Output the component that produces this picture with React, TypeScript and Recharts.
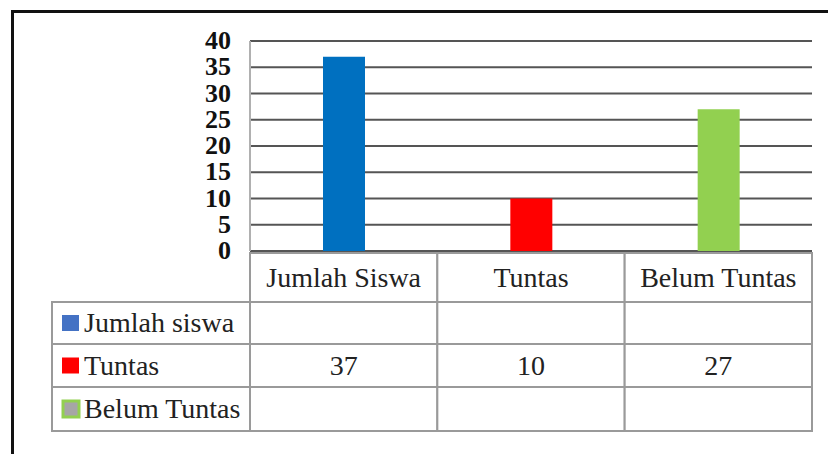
import { BarChart, Bar, Cell, XAxis, YAxis, CartesianGrid } from 'recharts';

const W = 828;
const H = 454;
const PLOT_LEFT = 250;
const PLOT_RIGHT = 812;
const PLOT_TOP = 41;
const PLOT_BOTTOM = 251;

const categories = ['Jumlah Siswa', 'Tuntas', 'Belum Tuntas'];
const barColors = ['#0070C0', '#FF0000', '#92D050'];
const seriesNames = ['Jumlah siswa', 'Tuntas', 'Belum Tuntas'];
const legendColors = ['#4472C4', '#FF0000', '#92D050'];
const jumlahRow: (number | null)[] = [null, null, null];
const tuntasRow: (number | null)[] = [37, 10, 27];
const belumRow: (number | null)[] = [null, null, null];
const yTicks = [0, 5, 10, 15, 20, 25, 30, 35, 40];

const tableRows = [jumlahRow, tuntasRow, belumRow];
const data = categories.map((c, i) => ({ name: c, value: tuntasRow[i] }));

const FONT = '"Liberation Serif", "Times New Roman", serif';
const LINE = '#9a9a9a';
const TXT = 28;
// table row edges: header, then one row per series
const ROW_Y = [253, 302, 344, 387, 431];
const LEGEND_LEFT = 52;

function YTick({ y, payload }: any) {
  return (
    <text
      x={231}
      y={y}
      dy={8}
      textAnchor="end"
      fontFamily={FONT}
      fontWeight="bold"
      fontSize={26}
      fill="#111"
    >
      {payload.value}
    </text>
  );
}

function TableTick({ x, payload, index }: any) {
  const band = (PLOT_RIGHT - PLOT_LEFT) / categories.length;
  const left = x - band / 2;
  return (
    <g>
      {index === 0 && (
        <g>
          {seriesNames.map((s, r) => {
            const top = ROW_Y[r + 1];
            const h = ROW_Y[r + 2] - top;
            const mid = top + h / 2;
            return (
              <g key={s}>
                <rect x={LEGEND_LEFT} y={top} width={PLOT_LEFT - LEGEND_LEFT} height={h} fill="#fff" stroke={LINE} strokeWidth={2} />
                {r === 2 ? (
                  <rect x={63} y={mid - 8} width={16} height={16} fill="#a6a6a6" stroke={legendColors[r]} strokeWidth={3} />
                ) : (
                  <rect x={62} y={mid - 8} width={17} height={16} fill={legendColors[r]} />
                )}
                <text x={84} y={mid + 9} fontFamily={FONT} fontSize={TXT} fill="#222">
                  {s}
                </text>
              </g>
            );
          })}
        </g>
      )}
      <rect x={left} y={ROW_Y[0]} width={band} height={ROW_Y[1] - ROW_Y[0]} fill="#fff" stroke={LINE} strokeWidth={2} />
      <text x={x} y={(ROW_Y[0] + ROW_Y[1]) / 2 + 9} textAnchor="middle" fontFamily={FONT} fontSize={TXT} fill="#222">
        {payload.value}
      </text>
      {tableRows.map((row, r) => {
        const top = ROW_Y[r + 1];
        const h = ROW_Y[r + 2] - top;
        return (
          <g key={r}>
            <rect x={left} y={top} width={band} height={h} fill="#fff" stroke={LINE} strokeWidth={2} />
            {row[index] != null && (
              <text x={x} y={top + h / 2 + 9} textAnchor="middle" fontFamily={FONT} fontSize={TXT} fill="#222">
                {row[index]}
              </text>
            )}
          </g>
        );
      })}
    </g>
  );
}

export default function App() {
  return (
    <div style={{ position: 'absolute', left: 0, top: 0, width: W, height: H, background: '#fff', overflow: 'hidden' }}>
      <div
        style={{
          position: 'absolute',
          left: 11,
          top: 10,
          width: W,
          height: H,
          borderLeft: '3px solid #111',
          borderTop: '3px solid #111',
        }}
      />
      <div style={{ position: 'absolute', left: 0, top: 0 }}>
        <BarChart
          width={W}
          height={H}
          data={data}
          margin={{ top: PLOT_TOP, right: W - PLOT_RIGHT, bottom: 2, left: PLOT_LEFT - 50 }}
        >
          <CartesianGrid horizontal vertical={false} stroke="#555" strokeWidth={2} />
          <YAxis
            domain={[0, 40]}
            ticks={yTicks}
            interval={0}
            width={50}
            tickLine={false}
            axisLine={{ stroke: '#b0b0b0', strokeWidth: 2 }}
            tick={<YTick />}
          />
          <XAxis
            dataKey="name"
            height={H - PLOT_BOTTOM - 2}
            interval={0}
            tickLine={false}
            axisLine={false}
            tick={<TableTick />}
          />
          <Bar dataKey="value" barSize={42} isAnimationActive={false}>
            {data.map((d, i) => (
              <Cell key={d.name} fill={barColors[i]} />
            ))}
          </Bar>
        </BarChart>
      </div>
    </div>
  );
}
